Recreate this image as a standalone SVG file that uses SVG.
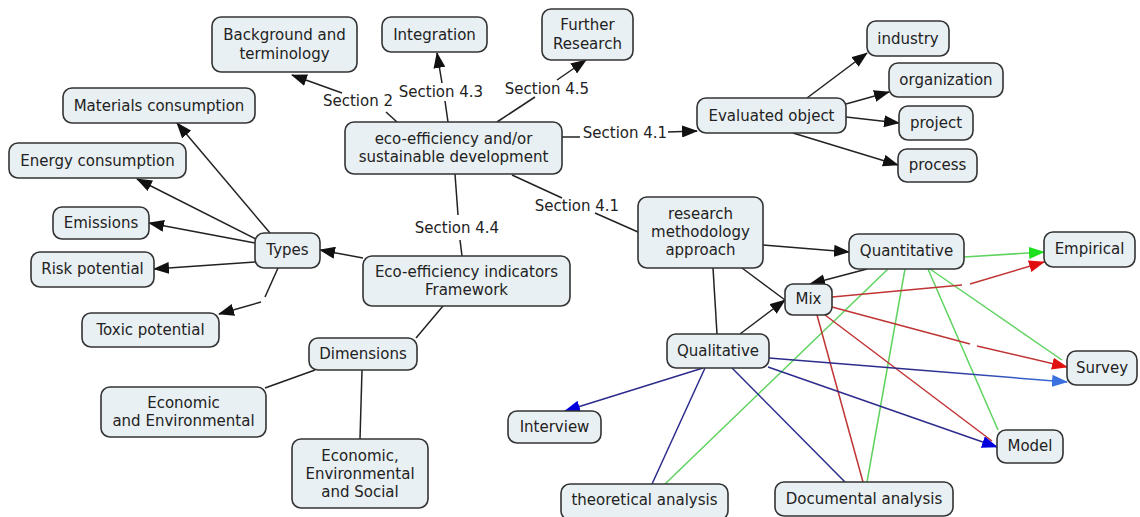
<svg xmlns="http://www.w3.org/2000/svg" width="1140" height="517" viewBox="0 0 1140 517">
<defs>
<style>
.n rect{fill:#e9f0f3;stroke:#333;stroke-width:1.6}
text{font-family:"DejaVu Sans",Verdana,sans-serif;font-size:15px;fill:#222;text-anchor:middle}
.c line,.c path{fill:none;stroke-width:1.5}
.k{stroke:#222}
.g{stroke:#5fd35f}
.r{stroke:#c03434}
.b{stroke:#2c2c8c}
</style>
<marker id="ak" markerUnits="userSpaceOnUse" markerWidth="16" markerHeight="12" refX="15" refY="6" orient="auto"><path d="M0,0 L16,6 L0,12 z" fill="#111"/></marker>
<marker id="ag" markerUnits="userSpaceOnUse" markerWidth="16" markerHeight="12" refX="15" refY="6" orient="auto"><path d="M0,0 L16,6 L0,12 z" fill="#1ee01e"/></marker>
<marker id="ar" markerUnits="userSpaceOnUse" markerWidth="16" markerHeight="12" refX="15" refY="6" orient="auto"><path d="M0,0 L16,6 L0,12 z" fill="#e01010"/></marker>
<marker id="ab" markerUnits="userSpaceOnUse" markerWidth="16" markerHeight="12" refX="15" refY="6" orient="auto"><path d="M0,0 L16,6 L0,12 z" fill="#0000dd"/></marker>
<marker id="al" markerUnits="userSpaceOnUse" markerWidth="16" markerHeight="12" refX="15" refY="6" orient="auto"><path d="M0,0 L16,6 L0,12 z" fill="#3a70e0"/></marker>
<linearGradient id="gb" gradientUnits="userSpaceOnUse" x1="769" y1="358" x2="1067" y2="382"><stop offset="0" stop-color="#2c2c8c"/><stop offset="0.5" stop-color="#2c2c8c"/><stop offset="1" stop-color="#3a70e0"/></linearGradient>
</defs>
<rect width="1140" height="517" fill="#fff"/>
<g id="connectors" class="c">
<line class="k" x1="397" y1="122" x2="386" y2="112"/>
<line class="k" x1="342" y1="93" x2="292" y2="75" marker-end="url(#ak)"/>
<line class="k" x1="448" y1="122" x2="445" y2="101"/>
<line class="k" x1="442" y1="83" x2="437" y2="53" marker-end="url(#ak)"/>
<line class="k" x1="497" y1="122" x2="535" y2="97"/>
<line class="k" x1="557" y1="80" x2="586" y2="60" marker-end="url(#ak)"/>
<line class="k" x1="562" y1="137" x2="580" y2="137"/>
<line class="k" x1="668" y1="132" x2="697" y2="131" marker-end="url(#ak)"/>
<line class="k" x1="807" y1="98" x2="867" y2="53" marker-end="url(#ak)"/>
<line class="k" x1="846" y1="104" x2="889" y2="92" marker-end="url(#ak)"/>
<line class="k" x1="846" y1="117" x2="899" y2="123" marker-end="url(#ak)"/>
<line class="k" x1="793" y1="133" x2="898" y2="165" marker-end="url(#ak)"/>
<line class="k" x1="512" y1="175" x2="562" y2="198"/>
<line class="k" x1="595" y1="213" x2="638" y2="232"/>
<line class="k" x1="455" y1="174" x2="458" y2="215"/>
<line class="k" x1="460" y1="240" x2="462" y2="256"/>
<line class="k" x1="363" y1="258" x2="320" y2="250" marker-end="url(#ak)"/>
<line class="k" x1="270" y1="233" x2="177" y2="123" marker-end="url(#ak)"/>
<line class="k" x1="256" y1="239" x2="137" y2="179" marker-end="url(#ak)"/>
<line class="k" x1="255" y1="243" x2="149" y2="223" marker-end="url(#ak)"/>
<line class="k" x1="255" y1="262" x2="154" y2="269" marker-end="url(#ak)"/>
<line class="k" x1="278" y1="268" x2="265" y2="297"/>
<line class="k" x1="261" y1="302" x2="219" y2="314" marker-end="url(#ak)"/>
<line class="k" x1="443" y1="306" x2="416" y2="338"/>
<line class="k" x1="315" y1="370" x2="265" y2="388"/>
<line class="k" x1="362" y1="370" x2="360" y2="439"/>
<line class="k" x1="763" y1="245" x2="849" y2="252" marker-end="url(#ak)"/>
<line class="k" x1="742" y1="268" x2="785" y2="300"/>
<line class="k" x1="867" y1="269" x2="810" y2="284" marker-end="url(#ak)"/>
<line class="k" x1="713" y1="268" x2="717" y2="334"/>
<line class="k" x1="740" y1="334" x2="785" y2="300" marker-end="url(#ak)"/>
<line class="g" x1="964" y1="257" x2="1044" y2="252" marker-end="url(#ag)"/>
<line class="g" x1="930" y1="269" x2="1062" y2="360"/>
<line class="g" x1="928" y1="269" x2="998" y2="430"/>
<line class="g" x1="905" y1="269" x2="867" y2="482"/>
<line class="g" x1="888" y1="269" x2="665" y2="484"/>
<line class="r" x1="832" y1="297" x2="962" y2="285"/>
<line class="r" x1="970" y1="284" x2="1044" y2="262" marker-end="url(#ar)"/>
<line class="r" x1="832" y1="307" x2="970" y2="344"/>
<line class="r" x1="977" y1="346" x2="1067" y2="367" marker-end="url(#ar)"/>
<line class="r" x1="825" y1="315" x2="992" y2="441"/>
<line class="r" x1="817" y1="315" x2="863" y2="482"/>
<line class="b" x1="703" y1="368" x2="565" y2="411" marker-end="url(#ab)"/>
<line class="b" x1="705" y1="368" x2="652" y2="484"/>
<line class="b" x1="732" y1="368" x2="845" y2="482"/>
<line class="b" x1="768" y1="367" x2="997" y2="447" marker-end="url(#ab)"/>
<line x1="769" y1="358" x2="1067" y2="382" stroke="url(#gb)" marker-end="url(#al)"/>
</g>
<g id="labels">
<text x="358" y="106">Section 2</text>
<text x="441" y="97">Section 4.3</text>
<text x="547" y="94">Section 4.5</text>
<text x="625" y="138">Section 4.1</text>
<text x="577" y="211">Section 4.1</text>
<text x="457" y="233">Section 4.4</text>
</g>
<g id="bg" class="n"><rect x="212" y="17" width="145" height="55" rx="9"/><text x="284.5" y="40">Background and</text><text x="284.5" y="59">terminology</text></g>
<g id="integration" class="n"><rect x="382" y="17" width="105" height="35" rx="9"/><text x="434.5" y="40">Integration</text></g>
<g id="further" class="n"><rect x="542" y="9" width="91" height="51" rx="9"/><text x="587.5" y="30">Further</text><text x="587.5" y="49">Research</text></g>
<g id="central" class="n"><rect x="345" y="122" width="217" height="52" rx="9"/><text x="453.5" y="144">eco-efficiency and/or</text><text x="453.5" y="162">sustainable development</text></g>
<g id="materials" class="n"><rect x="63" y="88" width="192" height="35" rx="9"/><text x="159" y="111">Materials consumption</text></g>
<g id="energy" class="n"><rect x="9" y="143" width="177" height="35" rx="9"/><text x="97.5" y="166">Energy consumption</text></g>
<g id="evaluated" class="n"><rect x="697" y="98" width="149" height="35" rx="9"/><text x="771.5" y="121">Evaluated object</text></g>
<g id="industry" class="n"><rect x="867" y="21" width="82" height="35" rx="9"/><text x="908" y="44">industry</text></g>
<g id="organization" class="n"><rect x="889" y="63" width="114" height="34" rx="9"/><text x="946" y="85">organization</text></g>
<g id="project" class="n"><rect x="899" y="106" width="74" height="34" rx="9"/><text x="936" y="128">project</text></g>
<g id="process" class="n"><rect x="898" y="149" width="79" height="33" rx="9"/><text x="937.5" y="170">process</text></g>
<g id="emissions" class="n"><rect x="53" y="207" width="96" height="32" rx="9"/><text x="101" y="228">Emissions</text></g>
<g id="risk" class="n"><rect x="31" y="252" width="123" height="35" rx="9"/><text x="92.5" y="274">Risk potential</text></g>
<g id="types" class="n"><rect x="255" y="233" width="65" height="35" rx="9"/><text x="287.5" y="255">Types</text></g>
<g id="toxic" class="n"><rect x="82" y="313" width="137" height="34" rx="9"/><text x="150.5" y="335">Toxic potential</text></g>
<g id="framework" class="n"><rect x="363" y="256" width="207" height="50" rx="9"/><text x="466.5" y="277">Eco-efficiency indicators</text><text x="466.5" y="295">Framework</text></g>
<g id="dimensions" class="n"><rect x="309" y="338" width="108" height="32" rx="9"/><text x="363" y="359">Dimensions</text></g>
<g id="econenv" class="n"><rect x="101" y="387" width="165" height="50" rx="9"/><text x="183.5" y="408">Economic</text><text x="183.5" y="426">and Environmental</text></g>
<g id="econenvsoc" class="n"><rect x="292" y="439" width="136" height="69" rx="9"/><text x="360" y="461">Economic,</text><text x="360" y="479">Environmental</text><text x="360" y="497">and Social</text></g>
<g id="research" class="n"><rect x="638" y="197" width="125" height="71" rx="9"/><text x="700.5" y="219">research</text><text x="700.5" y="237">methodology</text><text x="700.5" y="255">approach</text></g>
<g id="mix" class="n"><rect x="785" y="284" width="47" height="31" rx="8"/><text x="808.5" y="304">Mix</text></g>
<g id="qualitative" class="n"><rect x="667" y="334" width="102" height="34" rx="9"/><text x="718" y="356">Qualitative</text></g>
<g id="interview" class="n"><rect x="508" y="411" width="93" height="32" rx="9"/><text x="554.5" y="432">Interview</text></g>
<g id="theoretical" class="n"><rect x="561" y="484" width="167" height="36" rx="9"/><text x="644.5" y="505">theoretical analysis</text></g>
<g id="documental" class="n"><rect x="775" y="482" width="178" height="34" rx="9"/><text x="864" y="504">Documental analysis</text></g>
<g id="quantitative" class="n"><rect x="849" y="234" width="115" height="35" rx="9"/><text x="906.5" y="256">Quantitative</text></g>
<g id="empirical" class="n"><rect x="1044" y="232" width="91" height="35" rx="9"/><text x="1089.5" y="254">Empirical</text></g>
<g id="survey" class="n"><rect x="1067" y="351" width="70" height="34" rx="9"/><text x="1102" y="373">Survey</text></g>
<g id="model" class="n"><rect x="997" y="430" width="66" height="33" rx="9"/><text x="1030" y="451">Model</text></g>
</svg>
